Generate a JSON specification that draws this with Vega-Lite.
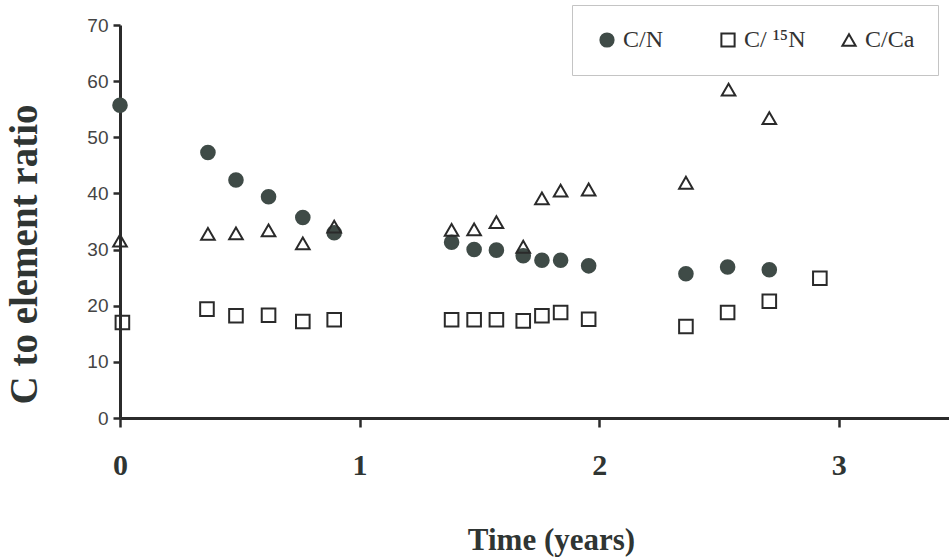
{
  "$schema": "https://vega.github.io/schema/vega-lite/v6.json",
  "width": 829,
  "height": 393,
  "autosize": "none",
  "padding": {"left": 120, "top": 25, "right": 0, "bottom": 142},
  "background": "white",
  "config": {"view": {"stroke": null}},
  "data": {
    "values": [
      {"t": 0, "v": 55.7, "series": "C/N"},
      {"t": 0.367, "v": 47.3, "series": "C/N"},
      {"t": 0.484, "v": 42.4, "series": "C/N"},
      {"t": 0.62, "v": 39.4, "series": "C/N"},
      {"t": 0.763, "v": 35.7, "series": "C/N"},
      {"t": 0.894, "v": 33.0, "series": "C/N"},
      {"t": 1.384, "v": 31.3, "series": "C/N"},
      {"t": 1.478, "v": 30.0, "series": "C/N"},
      {"t": 1.571, "v": 29.9, "series": "C/N"},
      {"t": 1.683, "v": 28.9, "series": "C/N"},
      {"t": 1.761, "v": 28.1, "series": "C/N"},
      {"t": 1.839, "v": 28.1, "series": "C/N"},
      {"t": 1.956, "v": 27.1, "series": "C/N"},
      {"t": 2.362, "v": 25.7, "series": "C/N"},
      {"t": 2.536, "v": 26.9, "series": "C/N"},
      {"t": 2.71, "v": 26.4, "series": "C/N"},
      {"t": 0.01, "v": 17.0, "series": "C/ ¹⁵N"},
      {"t": 0.363, "v": 19.4, "series": "C/ ¹⁵N"},
      {"t": 0.484, "v": 18.2, "series": "C/ ¹⁵N"},
      {"t": 0.62, "v": 18.3, "series": "C/ ¹⁵N"},
      {"t": 0.763, "v": 17.2, "series": "C/ ¹⁵N"},
      {"t": 0.894, "v": 17.5, "series": "C/ ¹⁵N"},
      {"t": 1.384, "v": 17.5, "series": "C/ ¹⁵N"},
      {"t": 1.478, "v": 17.5, "series": "C/ ¹⁵N"},
      {"t": 1.571, "v": 17.5, "series": "C/ ¹⁵N"},
      {"t": 1.683, "v": 17.3, "series": "C/ ¹⁵N"},
      {"t": 1.761, "v": 18.2, "series": "C/ ¹⁵N"},
      {"t": 1.839, "v": 18.8, "series": "C/ ¹⁵N"},
      {"t": 1.956, "v": 17.6, "series": "C/ ¹⁵N"},
      {"t": 2.362, "v": 16.3, "series": "C/ ¹⁵N"},
      {"t": 2.536, "v": 18.8, "series": "C/ ¹⁵N"},
      {"t": 2.71, "v": 20.8, "series": "C/ ¹⁵N"},
      {"t": 2.921, "v": 24.9, "series": "C/ ¹⁵N"},
      {"t": 0, "v": 31.6, "series": "C/Ca"},
      {"t": 0.367, "v": 32.8, "series": "C/Ca"},
      {"t": 0.484, "v": 32.9, "series": "C/Ca"},
      {"t": 0.62, "v": 33.4, "series": "C/Ca"},
      {"t": 0.763, "v": 31.1, "series": "C/Ca"},
      {"t": 0.894, "v": 34.1, "series": "C/Ca"},
      {"t": 1.384, "v": 33.5, "series": "C/Ca"},
      {"t": 1.478, "v": 33.6, "series": "C/Ca"},
      {"t": 1.571, "v": 34.9, "series": "C/Ca"},
      {"t": 1.683, "v": 30.5, "series": "C/Ca"},
      {"t": 1.761, "v": 39.1, "series": "C/Ca"},
      {"t": 1.839, "v": 40.5, "series": "C/Ca"},
      {"t": 1.956, "v": 40.7, "series": "C/Ca"},
      {"t": 2.362, "v": 41.9, "series": "C/Ca"},
      {"t": 2.54, "v": 58.5, "series": "C/Ca"},
      {"t": 2.71, "v": 53.4, "series": "C/Ca"}
    ]
  },
  "mark": {"type": "point", "size": 185, "strokeWidth": 2, "opacity": 1},
  "encoding": {
    "x": {
      "field": "t", "type": "quantitative",
      "scale": {"domain": [0, 3.46], "nice": false, "zero": false},
      "axis": {
        "title": "Time (years)",
        "values": [0, 1, 2, 3],
        "format": "d",
        "grid": false,
        "labelFlush": false,
        "domainColor": "#2b2b2b", "domainWidth": 3,
        "tickColor": "#2b2b2b", "tickWidth": 2.5, "tickSize": 9,
        "labelFont": "Liberation Serif", "labelFontWeight": "bold", "labelFontSize": 30, "labelColor": "#2f3533",
        "labelPadding": 23,
        "titleFont": "Liberation Serif", "titleFontWeight": "bold", "titleFontSize": 31, "titleColor": "#2f3533",
        "titleX": 431, "titleY": 122, "titleBaseline": "middle", "titleAlign": "center"
      }
    },
    "y": {
      "field": "v", "type": "quantitative",
      "scale": {"domain": [0, 70], "nice": false},
      "axis": {
        "title": "C to element ratio",
        "values": [0, 10, 20, 30, 40, 50, 60, 70],
        "grid": false,
        "domainColor": "#2b2b2b", "domainWidth": 3,
        "tickColor": "#2b2b2b", "tickWidth": 2.5, "tickSize": 7,
        "labelFont": "Liberation Sans", "labelFontSize": 19, "labelColor": "#444", "labelPadding": 5,
        "titleFont": "Liberation Serif", "titleFontWeight": "bold", "titleFontSize": 39, "titleColor": "#2f3533",
        "titleAngle": -90, "titleX": -96, "titleY": 229, "titleBaseline": "middle", "titleAlign": "center"
      }
    },
    "shape": {
      "field": "series", "type": "nominal",
      "scale": {"domain": ["C/N", "C/ ¹⁵N", "C/Ca"], "range": ["circle", "square", "triangle-up"]},
      "legend": {
        "title": null,
        "orient": "none", "legendX": 452, "legendY": -20,
        "direction": "horizontal", "columns": 3, "gridAlign": "all", "columnPadding": 31,
        "padding": 23,
        "strokeColor": "#c4c4c4",
        "symbolSize": 175, "symbolStrokeWidth": 2, "symbolOpacity": 1,
        "labelFont": "Liberation Serif", "labelFontSize": 24, "labelColor": "#333", "labelOffset": 4
      }
    },
    "fill": {
      "field": "series", "type": "nominal",
      "scale": {"domain": ["C/N", "C/ ¹⁵N", "C/Ca"], "range": ["#3f4b47", "transparent", "transparent"]}
    },
    "stroke": {
      "field": "series", "type": "nominal",
      "scale": {"domain": ["C/N", "C/ ¹⁵N", "C/Ca"], "range": ["#3f4b47", "#2a2a2a", "#2a2a2a"]}
    }
  }
}
